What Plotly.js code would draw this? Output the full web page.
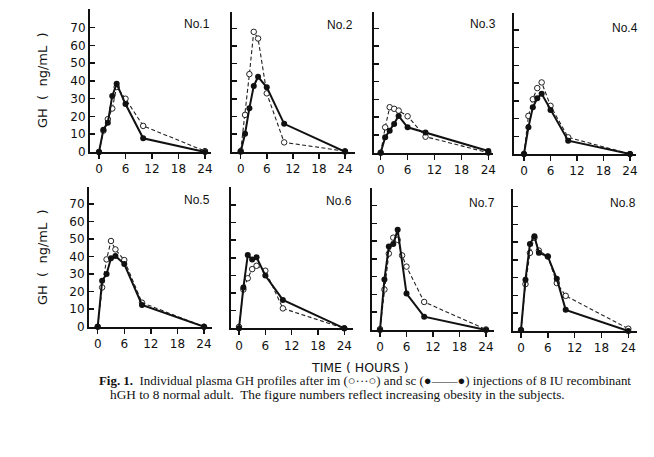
<!DOCTYPE html>
<html>
<head>
<meta charset="utf-8">
<script src="https://cdn.plot.ly/plotly-3.0.1.min.js"></script>
<style>html,body{margin:0;padding:0;background:#fff;}#chart{width:654px;height:457px;}</style>
</head>
<body>
<div id="chart"></div>
<script>
// ---- data (hours, GH ng/mL) ----
const panelNames = ["No.1","No.2","No.3","No.4","No.5","No.6","No.7","No.8"];
const xTickVals = [0, 6, 12, 18, 24];
const yTickVals = [0, 10, 20, 30, 40, 50, 60, 70];

const t1_sc = [0,1,2,3,4,6,10,24];  const gh1_sc = [0,12.6,16.5,31.6,38.4,27,7.7,0];
const t1_im = [0,1,2,3,4,6,10,24];  const gh1_im = [0,12,18.5,24.5,36.6,30,14.7,0.5];
const t2_sc = [0,1,2,3,4,6,10,24];  const gh2_sc = [0,10.2,24.7,37.3,42.5,36.5,15.8,0];
const t2_im = [0,1,2,3,4,6,10,24];  const gh2_im = [0.4,20.9,44,68,64.2,33.1,5.3,0.3];
const t3_sc = [0,1,2,3,4,6,10,24];  const gh3_sc = [0,8.7,12.4,16.2,20.7,14.3,11.3,1];
const t3_im = [0,1,2,3,4,6,10,24];  const gh3_im = [0,14.3,25.6,24.7,23.7,20.5,9,0];
const t4_sc = [0,1,2,3,4,6,10,24];  const gh4_sc = [0,15.1,26.4,31.5,34,24.9,7.5,0];
const t4_im = [0,1,2,3,4,6,10,24];  const gh4_im = [0,21.5,30.9,37.2,40.4,27.2,9.4,0];
const t5_sc = [0,1,2,3,4,6,10,24];  const gh5_sc = [0,26.2,30,39,40.3,35.7,12.4,0];
const t5_im = [0,1,2,3,4,6,10,24];  const gh5_im = [0,22.4,38.4,48.9,44.1,38,13.7,0];
const t6_sc = [0,1,2,3,4,6,10,24];  const gh6_sc = [0,23.1,41.6,39.1,40.3,30,16.1,0];
const t6_im = [0,1,2,3,4,6,10,24];  const gh6_im = [0.8,22,28.4,33.6,35.5,32.7,11.3,0];
const t7_sc = [0,1,2,3,4,6,10,24];  const gh7_sc = [0,28.5,47,48.5,56.4,20.5,7.5,0];
const t7_im = [0,1,2,3,4,5,6,10,24];  const gh7_im = [0.5,22.8,43,52,50.8,42,35.7,15.8,0.3];
const t8_sc = [0,1,2,3,4,6,8,10,24];  const gh8_sc = [0.5,28.9,49,53.4,44,42,29.4,11.9,0];
const t8_im = [0,1,2,3,4,6,8,10,24];  const gh8_im = [0.5,26.4,44,52.5,45.3,42,27,19.8,1.3];

const scT = [t1_sc,t2_sc,t3_sc,t4_sc,t5_sc,t6_sc,t7_sc,t8_sc];
const scY = [gh1_sc,gh2_sc,gh3_sc,gh4_sc,gh5_sc,gh6_sc,gh7_sc,gh8_sc];
const imT = [t1_im,t2_im,t3_im,t4_im,t5_im,t6_im,t7_im,t8_im];
const imY = [gh1_im,gh2_im,gh3_im,gh4_im,gh5_im,gh6_im,gh7_im,gh8_im];

// ---- panel geometry (pixels in 654x457 page) ----
const W = 654, H = 457;
// left axis, x of hour 0, x of hour 24, right end of axis, top of axis, bottom (y=0), y of 70
const geo = [
  [90, 99, 205, 211, 9.3, 152, 27.7],
  [232, 240.7, 345, 355, 11.7, 151.7, 28.3],
  [374, 380.7, 488.3, 493, 12, 152.7, 28.3],
  [514, 524, 630, 636, 13.3, 154, 30],
  [89, 97.7, 204, 212, 186.7, 326.7, 204],
  [231, 239, 344.3, 353, 186.7, 328.3, 205],
  [372, 380, 486, 494, 188.3, 330, 205.7],
  [513.3, 521, 628.3, 637, 189.3, 331, 206.7]
];
const labelPos = [[212,24],[355,25],[498,24],[640,28.5],[212,200],[354,201],[497,202.5],[638,203.5]];

const traces = [];
const layout = {
  width: W, height: H,
  margin: {l:0, r:0, t:0, b:0},
  paper_bgcolor: '#fff', plot_bgcolor: 'rgba(0,0,0,0)',
  showlegend: false,
  font: {family: 'DejaVu Sans, sans-serif', color: '#111'},
  annotations: []
};

for (let i = 0; i < 8; i++) {
  const [L, x0, x24, R, top, bot, y70] = geo[i];
  const s = (x24 - x0) / 24;
  const py = (bot - y70) / 70;
  const xa = 'xaxis' + (i === 0 ? '' : (i + 1));
  const ya = 'yaxis' + (i === 0 ? '' : (i + 1));
  const xr = 'x' + (i === 0 ? '' : (i + 1));
  const yr = 'y' + (i === 0 ? '' : (i + 1));
  layout[xa] = {
    domain: [L / W, R / W],
    range: [(L - x0) / s, (R - x0) / s],
    anchor: yr, showline: true, linewidth: 2, linecolor: '#111',
    ticks: 'outside', ticklen: 5, tickwidth: 1.5, tickcolor: '#111',
    tickvals: xTickVals, showgrid: false, zeroline: false,
    tickfont: {size: 12, family: 'DejaVu Sans, sans-serif', color: '#111'}
  };
  layout[ya] = {
    domain: [1 - bot / H, 1 - top / H],
    range: [0, (bot - top) / py],
    anchor: xr, showline: true, linewidth: 2, linecolor: '#111',
    ticks: 'inside', ticklen: 5, tickwidth: 1.5, tickcolor: '#111',
    tickvals: yTickVals, showgrid: false, zeroline: false,
    showticklabels: (i === 0 || i === 4),
    tickfont: {size: 12, family: 'DejaVu Sans, sans-serif', color: '#111'}
  };
  traces.push({
    x: imT[i], y: imY[i], xaxis: xr, yaxis: yr, type: 'scatter', mode: 'lines+markers',
    cliponaxis: false,
    line: {color: '#222', width: 1.1, dash: '4px,2.5px'},
    marker: {symbol: 'circle', size: 5.5, color: '#fff', line: {color: '#222', width: 1}}
  });
  traces.push({
    x: scT[i], y: scY[i], xaxis: xr, yaxis: yr, type: 'scatter', mode: 'lines+markers',
    cliponaxis: false,
    line: {color: '#111', width: 2},
    marker: {symbol: 'circle', size: 6, color: '#111'}
  });
  layout.annotations.push({
    text: panelNames[i], xref: 'paper', yref: 'paper',
    x: labelPos[i][0] / W, y: 1 - labelPos[i][1] / H,
    xanchor: 'right', yanchor: 'middle', showarrow: false,
    font: {size: 12, family: 'Liberation Sans, Arial, sans-serif', color: '#111'}
  });
}

// axis titles
[[42, 80], [42, 257]].forEach(p => {
  layout.annotations.push({
    text: 'GH\u00a0 (\u00a0 ng/mL\u00a0 )', xref: 'paper', yref: 'paper',
    x: p[0] / W, y: 1 - p[1] / H, xanchor: 'center', yanchor: 'middle',
    textangle: -90, showarrow: false,
    font: {size: 13, family: 'DejaVu Sans, sans-serif', color: '#111'}
  });
});
layout.annotations.push({
  text: 'TIME ( HOURS )', xref: 'paper', yref: 'paper',
  x: 360 / W, y: 1 - 367 / H, xanchor: 'center', yanchor: 'middle', showarrow: false,
  font: {size: 12.5, family: 'DejaVu Sans, sans-serif', color: '#111'}
});
// caption
layout.annotations.push({
  text: '<b>Fig. 1.</b>\u00a0 Individual plasma GH profiles after im (○\u00b7\u00b7\u00b7○) and sc (●\u2014\u2014●) injections of 8 IU recombinant',
  xref: 'paper', yref: 'paper', x: 97 / W, y: 1 - 381 / H,
  xanchor: 'left', yanchor: 'middle', showarrow: false,
  font: {size: 12.9, family: 'Liberation Serif, Times New Roman, serif', color: '#111'}
});
layout.annotations.push({
  text: 'hGH to 8 normal adult.\u00a0 The figure numbers reflect increasing obesity in the subjects.',
  xref: 'paper', yref: 'paper', x: 108 / W, y: 1 - 394.5 / H,
  xanchor: 'left', yanchor: 'middle', showarrow: false,
  font: {size: 13.3, family: 'Liberation Serif, Times New Roman, serif', color: '#111'}
});

Plotly.newPlot('chart', traces, layout, {staticPlot: true, displayModeBar: false});
</script>
</body>
</html>
